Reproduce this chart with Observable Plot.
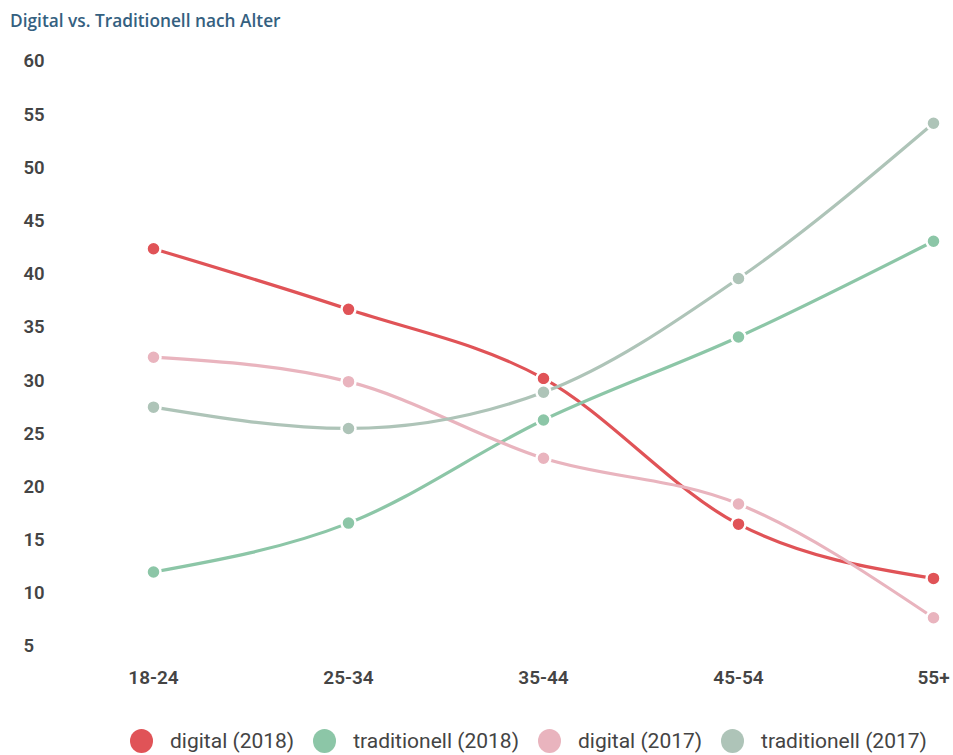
<!DOCTYPE html>
<html>
<head>
<meta charset="utf-8">
<script src="https://cdn.jsdelivr.net/npm/d3@7"></script>
<script src="https://cdn.jsdelivr.net/npm/@observablehq/plot@0.6"></script>
<style>
  body { margin: 0; background: #fff; font-family: Roboto, sans-serif; }
  #title { height: 40px; box-sizing: border-box; padding: 9px 0 0 10px; font-family: "Open Sans", sans-serif; font-weight: 600; font-size: 17.3px; color: #34607f; }
  #legend { display: flex; height: 40px; align-items: center; padding-left: 130px; padding-top: 12px; box-sizing: border-box; font-size: 21px; color: #444; }
  .item { display: flex; align-items: center; margin-right: 19px; }
  .sw { width: 23px; height: 24px; border-radius: 50%; margin-right: 17px; }
</style>
</head>
<body>
<div id="title">Digital vs. Traditionell nach Alter</div>
<div id="chart"></div>
<div id="legend"></div>
<script>
const categories = ["18-24", "25-34", "35-44", "45-54", "55+"];
const seriesNames = ["digital (2018)", "traditionell (2018)", "digital (2017)", "traditionell (2017)"];
const seriesColors = ["#e05357", "#8cc6a7", "#e9b4be", "#aec4b8"];
const digital2018 = [42.4, 36.7, 30.2, 16.5, 11.4];
const traditionell2018 = [12.0, 16.6, 26.3, 34.1, 43.1];
const digital2017 = [32.2, 29.9, 22.7, 18.4, 7.7];
const traditionell2017 = [27.5, 25.5, 28.9, 39.6, 54.2];
const yTicks = [5, 10, 15, 20, 25, 30, 35, 40, 45, 50, 55, 60];

const seriesValues = [digital2018, traditionell2018, digital2017, traditionell2017];
const data = [];
seriesNames.forEach((s, i) => categories.forEach((c, j) => data.push({series: s, age: c, value: seriesValues[i][j]})));

const chart = Plot.plot({
  width: 953,
  height: 675,
  marginTop: 21,
  marginBottom: 69,
  marginLeft: 152,
  marginRight: 19,
  style: {fontFamily: "Roboto, sans-serif", fontSize: "18px", color: "#444", background: "#fff"},
  x: {type: "point", domain: categories, padding: 0, label: null},
  y: {domain: [5, 60], label: null},
  color: {domain: seriesNames, range: seriesColors},
  marks: [
    Plot.axisX({tickSize: 0, tickPadding: 24, fontWeight: 600, fontSize: 19, fill: "#444", label: null}),
    Plot.axisY({ticks: yTicks, tickSize: 0, tickPadding: 129, textAnchor: "start", fontWeight: 600, fontSize: 18.5, fill: "#444", label: null}),
    Plot.line(data, {x: "age", y: "value", z: "series", stroke: "series", strokeWidth: 3.2, curve: "monotone-x"}),
    Plot.dot(data, {x: "age", y: "value", fill: "series", r: 7, stroke: "#fff", strokeWidth: 2.5})
  ]
});
document.getElementById("chart").appendChild(chart);

const legend = document.getElementById("legend");
seriesNames.forEach((s, i) => {
  const it = document.createElement("div");
  it.className = "item";
  const sw = document.createElement("div");
  sw.className = "sw";
  sw.style.background = seriesColors[i];
  const t = document.createElement("span");
  t.textContent = s;
  it.appendChild(sw); it.appendChild(t);
  legend.appendChild(it);
});
</script>
</body>
</html>
